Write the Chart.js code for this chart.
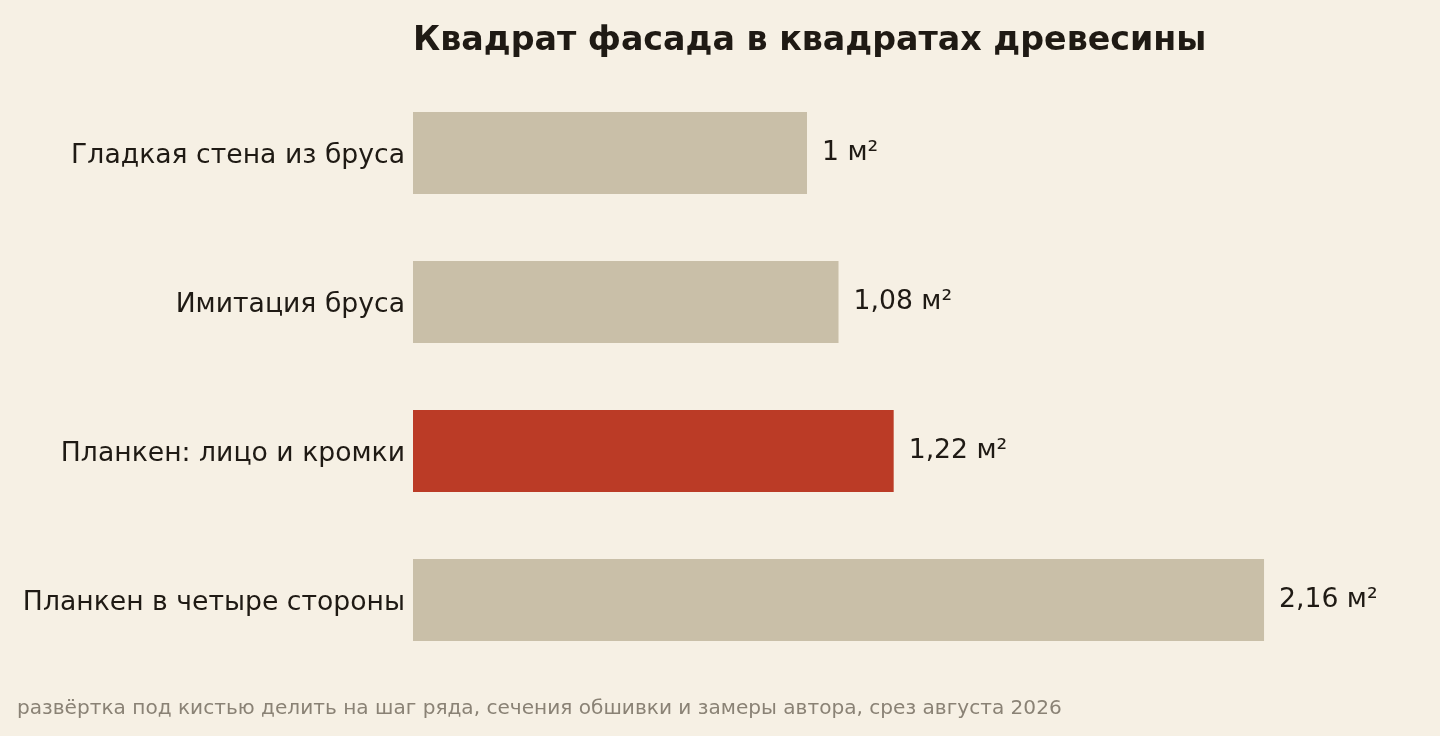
<!DOCTYPE html>
<html lang="ru">
<head>
<meta charset="utf-8">
<title>Квадрат фасада в квадратах древесины</title>
<script src="https://cdn.jsdelivr.net/npm/chart.js@4"></script>
<style>
  html, body { margin: 0; padding: 0; background: #f6f0e4; }
  #wrap { width: 1440px; height: 736px; position: relative; }
</style>
</head>
<body>
<div id="wrap"><canvas id="barChartCanvas"></canvas></div>
<script>
const categories = [
  "Гладкая стена из бруса",
  "Имитация бруса",
  "Планкен: лицо и кромки",
  "Планкен в четыре стороны"
];
const areaValues = [1, 1.08, 1.22, 2.16];
const highlightIndex = 2;

const titleText = "Квадрат фасада в квадратах древесины";
const noteText = "развёртка под кистью делить на шаг ряда, сечения обшивки и замеры автора, срез августа 2026";

const FONT = "'DejaVu Sans', Verdana, sans-serif";
const INK = "#1f1a14";

// подписи, заголовок и сноска
const textPlugin = {
  id: "textPlugin",
  afterDatasetsDraw(chart) {
    const ctx = chart.ctx;
    const area = chart.chartArea;
    ctx.save();
    ctx.fillStyle = INK;
    ctx.textAlign = "left";
    ctx.textBaseline = "middle";
    ctx.font = "bold 33.3px " + FONT;
    ctx.fillText(titleText, area.left, 41);

    ctx.font = "26.67px " + FONT;
    chart.getDatasetMeta(0).data.forEach((bar, i) => {
      const label = String(areaValues[i]).replace(".", ",") + " м²";
      ctx.fillText(label, bar.x + 15, bar.y);
    });

    ctx.fillStyle = "#8a8275";
    ctx.font = "20.1px " + FONT;
    ctx.fillText(noteText, 17, 709);
    ctx.restore();
  }
};

new Chart(document.getElementById("barChartCanvas").getContext("2d"), {
  type: "bar",
  data: {
    labels: categories,
    datasets: [{
      data: areaValues,
      backgroundColor: areaValues.map((v, i) => i === highlightIndex ? "#bb3b26" : "#c9bfa8"),
      borderWidth: 0,
      categoryPercentage: 1,
      barPercentage: 0.55
    }]
  },
  options: {
    indexAxis: "y",
    responsive: true,
    maintainAspectRatio: false,
    animation: false,
    layout: { padding: { top: 78.5, bottom: 61.5, left: 0, right: 42 } },
    plugins: {
      legend: { display: false },
      tooltip: { enabled: false },
      title: { display: false }
    },
    scales: {
      x: { display: false, min: 0, max: 2.5 },
      y: {
        grid: { display: false, drawTicks: false },
        border: { display: false },
        ticks: { color: INK, font: { family: FONT, size: 26.67 }, padding: 8, labelOffset: 3 },
        afterFit(scale) { scale.width = 413; }
      }
    }
  },
  plugins: [textPlugin]
});
</script>
</body>
</html>
